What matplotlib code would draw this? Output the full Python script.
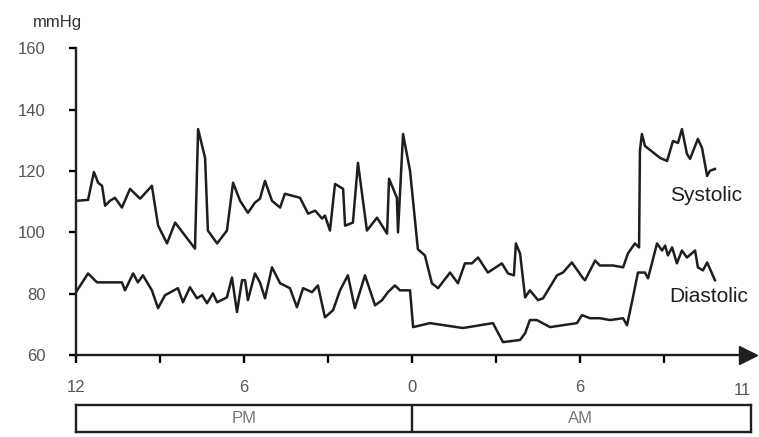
import matplotlib
matplotlib.use('Agg')
import matplotlib.pyplot as plt

plt.rcParams['font.family'] = ['Liberation Sans', 'DejaVu Sans']

# hours after noon (0 = 12 PM) and pressure in mmHg
sys_h = [0.0, 0.43, 0.64, 0.79, 0.93, 1.04, 1.21, 1.39, 1.64, 1.93,
         2.29, 2.71, 2.93, 3.25, 3.54, 4.25, 4.36, 4.61, 4.71, 5.04,
         5.39, 5.61, 5.86, 6.14, 6.39, 6.57, 6.75, 7.0, 7.29, 7.46,
         8.0, 8.29, 8.54, 8.79, 8.89, 9.07, 9.25, 9.54, 9.61, 9.89,
         10.07, 10.39, 10.75, 11.11, 11.18, 11.46, 11.5, 11.68, 11.93, 12.21,
         12.46, 12.71, 12.93, 13.36, 13.64, 13.89, 14.14, 14.36, 14.71, 15.21,
         15.43, 15.64, 15.71, 15.86, 16.04, 16.21, 16.5, 16.68, 17.18, 17.39,
         17.71, 18.11, 18.18, 18.54, 18.71, 19.18, 19.54, 19.71, 19.96, 20.11,
         20.14, 20.21, 20.32, 20.86, 21.11, 21.32, 21.5, 21.64, 21.82, 21.93,
         22.21, 22.36, 22.54, 22.64, 22.82]
sys_v = [110.3, 110.6, 119.7, 116.2, 115.2, 108.7, 110.3, 111.3, 108.1, 114.2,
         111.0, 115.2, 102.3, 96.4, 103.2, 94.7, 133.7, 124.3, 100.6, 96.4,
         100.6, 116.2, 110.3, 106.4, 109.7, 111.0, 116.8, 110.3, 108.1, 112.6,
         111.3, 106.1, 107.1, 104.5, 105.5, 100.6, 115.8, 114.2, 102.2, 103.2,
         122.7, 100.6, 104.8, 99.6, 117.5, 111.3, 100.0, 132.1, 120.1, 94.5,
         92.5, 83.4, 81.8, 86.9, 83.4, 89.9, 89.9, 91.8, 86.9, 89.9,
         86.6, 86.0, 96.4, 93.1, 78.8, 81.1, 77.9, 78.5, 86.0, 86.9,
         90.2, 85.0, 84.4, 90.8, 89.2, 89.2, 88.6, 93.1, 96.4, 95.1,
         126.6, 132.1, 128.2, 124.3, 123.3, 129.8, 129.2, 133.7, 125.6, 124.0,
         130.5, 127.5, 118.4, 120.1, 120.7]

dia_h = [0.0, 0.43, 0.75, 1.64, 1.75, 2.04, 2.21, 2.39, 2.71, 2.93,
         3.18, 3.64, 3.82, 4.07, 4.32, 4.5, 4.68, 4.89, 5.04, 5.39,
         5.57, 5.75, 5.93, 6.04, 6.14, 6.39, 6.57, 6.75, 7.0, 7.29,
         7.64, 7.89, 8.11, 8.43, 8.64, 8.89, 9.18, 9.43, 9.71, 9.96,
         10.32, 10.68, 10.93, 11.14, 11.39, 11.57, 11.93, 12.04, 12.64, 13.82,
         14.89, 15.25, 15.86, 16.04, 16.21, 16.46, 16.93, 17.89, 18.07, 18.36,
         18.71, 19.07, 19.54, 19.68, 19.89, 20.07, 20.32, 20.43, 20.75, 20.93,
         21.04, 21.14, 21.29, 21.46, 21.64, 21.82, 22.11, 22.21, 22.39, 22.54, 22.82]
dia_v = [80.5, 86.6, 83.7, 83.7, 81.1, 86.6, 83.7, 86.0, 81.1, 75.3,
         79.5, 81.8, 77.2, 82.1, 78.5, 79.5, 76.9, 80.1, 77.2, 78.8,
         85.3, 74.0, 84.4, 84.4, 77.9, 86.6, 83.7, 78.5, 88.6, 83.4,
         81.8, 75.6, 81.8, 80.5, 82.7, 72.3, 74.6, 81.1, 86.0, 75.3,
         86.0, 76.2, 77.9, 80.5, 82.7, 81.1, 81.1, 69.1, 70.4, 68.8,
         70.4, 64.2, 64.9, 67.1, 71.4, 71.4, 69.1, 70.4, 73.0, 72.0,
         72.0, 71.4, 72.0, 69.7, 78.8, 86.9, 86.9, 85.0, 96.4, 94.1,
         95.7, 92.5, 95.1, 89.9, 94.1, 91.8, 94.1, 88.6, 87.6, 90.2, 84.4]

yticks = [60, 80, 100, 120, 140, 160]
xticks = [0, 3, 6, 9, 12, 15, 18, 21]
xlabels = ['12', '', '6', '', '0', '', '6', '']
periods = ['PM', 'AM']

W, H = 759, 437
fig = plt.figure(figsize=(W / 100, H / 100), dpi=100)
ax = fig.add_axes([76 / W, (H - 355) / H, 672 / W, 306.5 / H])

ax.plot(sys_h, sys_v, color='#1e1e1e', lw=1.8)
ax.plot(dia_h, dia_v, color='#1e1e1e', lw=1.8)

ax.set_xlim(0, 24)
ax.set_ylim(60, 160)
for s in ['top', 'right']:
    ax.spines[s].set_visible(False)
for s in ['left', 'bottom']:
    ax.spines[s].set_linewidth(1.7)
    ax.spines[s].set_color('#1e1e1e')

ax.set_yticks(yticks)
ax.set_yticklabels([str(v) for v in yticks])
ax.set_xticks(xticks)
ax.set_xticklabels(xlabels)
ax.tick_params(axis='y', length=5, width=1.7, pad=17, labelsize=12, labelcolor='#555555')
ax.tick_params(axis='x', length=6, width=1.7, pad=12, labelsize=12, labelcolor='#555555')
ax.text(23.8, -0.115, '11', transform=ax.get_xaxis_transform(), ha='center', va='center',
        fontsize=12, color='#555555')

# arrow head at the end of the time axis
ax.plot([24], [60], marker='>', markersize=13, color='#1e1e1e', clip_on=False)

fig.text(57 / W, 1 - 22 / H, 'mmHg', ha='center', va='center', fontsize=12, color='#333333')
ax.text(21.2, 112, 'Systolic', fontsize=15, color='#1e1e1e', va='center')
ax.text(21.2, 79, 'Diastolic', fontsize=15, color='#1e1e1e', va='center')

# PM / AM band under the axis
bx = fig.add_axes([76 / W, (H - 432) / H, 675 / W, 27 / H])
bx.set_xlim(0, 24.1)
bx.set_ylim(0, 1)
bx.set_xticks([])
bx.set_yticks([])
for s in bx.spines.values():
    s.set_linewidth(1.7)
    s.set_color('#1e1e1e')
bx.axvline(12, color='#1e1e1e', lw=1.7)
bx.text(6, 0.5, periods[0], ha='center', va='center', fontsize=12, color='#777777')
bx.text(18, 0.5, periods[1], ha='center', va='center', fontsize=12, color='#777777')

fig.savefig('out.png', dpi=100)
